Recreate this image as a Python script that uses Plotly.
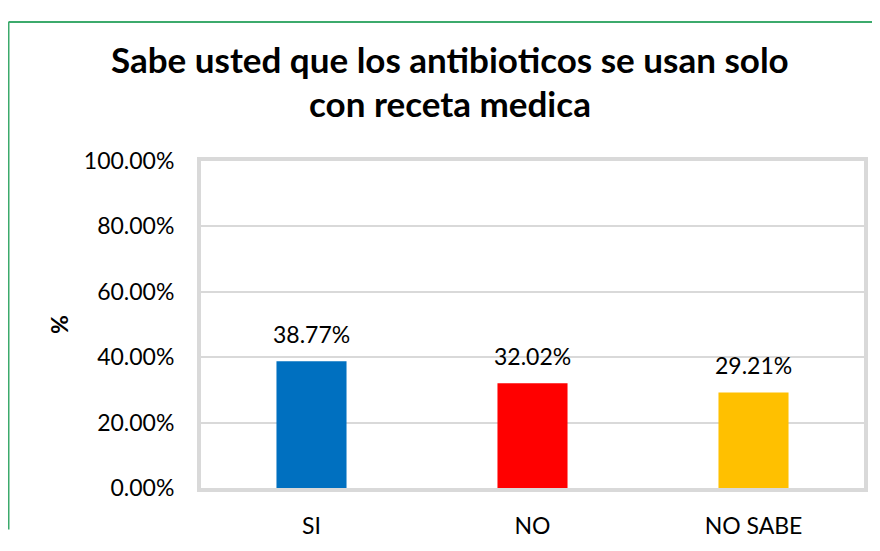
import plotly.graph_objects as go

categories = ["SI", "NO", "NO SABE"]
values = [0.3877, 0.3202, 0.2921]
colors = ["#0070C0", "#FF0000", "#FFC000"]
y_ticks = [0, 0.2, 0.4, 0.6, 0.8, 1.0]
title_lines = ["Sabe usted que los antibioticos se usan solo", "con receta medica"]
y_title = "%"

FONT = "Lato"
W, H = 872, 543
ml, mr, mt, mb = 193, 16, 153, 44
pw = W - ml - mr
ph = H - mt - mb


def xpx(px):
    return (px - ml) / pw


def ypx(px):
    return (H - mb - px) / ph


fig = go.Figure()
fig.add_trace(go.Bar(
    x=categories, y=values, marker=dict(color=colors, line=dict(width=0)),
    width=0.317, showlegend=False, hoverinfo="skip",
))

annotations = []
for c, v in zip(categories, values):
    annotations.append(dict(
        x=c, y=v, xref="x", yref="y", text=f"{v*100:.2f}%", showarrow=False,
        yanchor="bottom", yshift=11, font=dict(family=FONT, size=23, color="#000"),
    ))

for line, cy in zip(title_lines, [45.5, 92]):
    annotations.append(dict(
        x=xpx(442), y=ypx(cy), xref="paper", yref="paper", text=f"<b>{line}</b>",
        showarrow=False, xanchor="center", yanchor="middle",
        font=dict(family=FONT, size=35, color="#000"),
    ))

green = dict(color="#3CAA6C", width=2)
fig.update_layout(
    width=W, height=H,
    margin=dict(l=ml, r=mr, t=mt, b=mb),
    paper_bgcolor="white", plot_bgcolor="white",
    annotations=annotations,
    xaxis=dict(
        showline=True, linewidth=4, linecolor="#D9D9D9", mirror=True,
        showgrid=False, ticks="", ticklabelstandoff=14,
        tickfont=dict(family=FONT, size=23, color="#000"),
    ),
    yaxis=dict(
        range=[0, 1.0], tickvals=y_ticks, tickformat=".2%",
        showline=True, linewidth=4, linecolor="#D9D9D9", mirror=True,
        showgrid=True, gridcolor="#D9D9D9", gridwidth=1.5, zeroline=False,
        ticks="", ticklabelstandoff=18,
        tickfont=dict(family=FONT, size=23, color="#000"),
        title=dict(text=f"<b>{y_title}</b>", standoff=10,
                   font=dict(family=FONT, size=23, color="#000")),
    ),
    shapes=[
        dict(type="line", xref="paper", yref="paper",
             x0=xpx(0.5), x1=xpx(0.5), y0=ypx(H), y1=ypx(6), line=green, layer="above"),
        dict(type="line", xref="paper", yref="paper",
             x0=xpx(0.5), x1=xpx(W), y0=ypx(6), y1=ypx(6), line=green, layer="above"),
    ],
)

fig.write_html("out.html")
